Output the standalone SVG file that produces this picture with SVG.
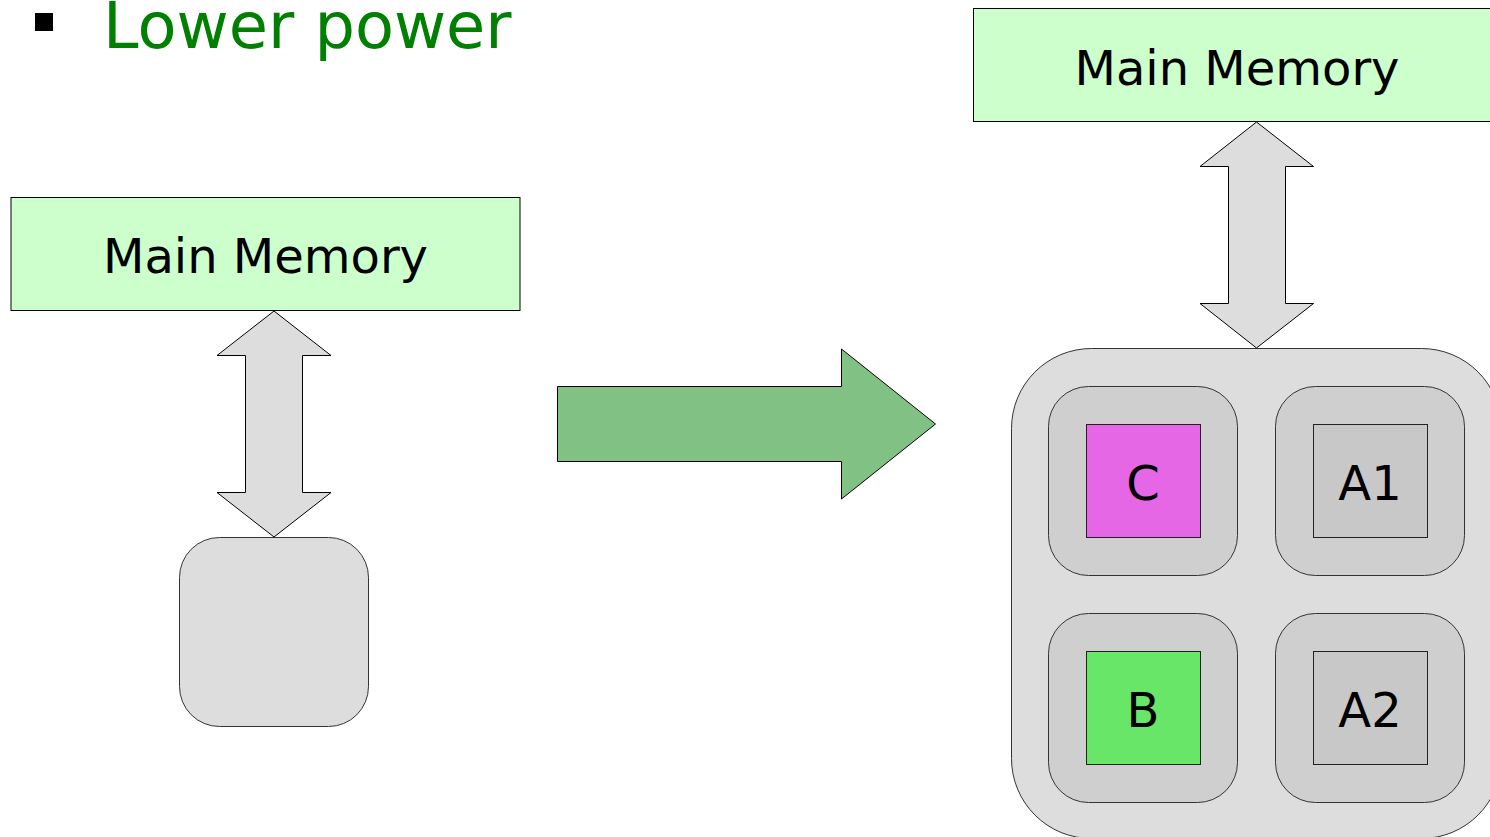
<svg xmlns="http://www.w3.org/2000/svg" width="1490" height="837" viewBox="0 0 1490 837">
<style>
  text { font-family: "DejaVu Sans", "Liberation Sans", sans-serif; }
  .mem { fill: #ccffcc; stroke: #000; stroke-width: 1; }
  .lbl { font-size: 48px; fill: #000; text-anchor: middle; }
  .dbl { fill: #dddddd; stroke: #000; stroke-width: 1; stroke-linejoin: miter; }
  .cpu { fill: #dddddd; stroke: #333; stroke-width: 1; }
  .core { fill: #cfcfcf; stroke: #333; stroke-width: 1; }
  .sq { stroke: #222; stroke-width: 1; }
</style>
<rect width="1490" height="837" fill="#ffffff"/>

<g id="title">
  <rect x="35" y="13" width="18" height="18" fill="#000"/>
  <text x="103" y="48" font-size="63.8" fill="#008000">Lower power</text>
</g>

<g id="left-memory">
  <rect class="mem" x="11" y="197.5" width="509" height="113"/>
  <text class="lbl" x="265.5" y="273">Main Memory</text>
</g>

<g id="left-cpu">
  <rect class="cpu" x="179.5" y="537.5" width="189" height="189" rx="40" ry="40"/>
</g>

<g id="right-memory">
  <rect class="mem" x="973.5" y="8.5" width="520" height="113"/>
  <text class="lbl" x="1237" y="85">Main Memory</text>
</g>

<g id="right-cpu">
  <rect class="cpu" x="1011.5" y="348.5" width="490" height="490" rx="80" ry="80"/>
</g>

<g id="core-c">
  <rect class="core" x="1048.5" y="386.5" width="189" height="189" rx="40" ry="40"/>
  <rect class="sq" x="1086.5" y="424.5" width="114" height="113" fill="#e667e6"/>
  <text class="lbl" x="1143" y="500">C</text>
</g>
<g id="core-a1">
  <rect class="core" x="1275.5" y="386.5" width="189" height="189" rx="40" ry="40"/>
  <rect class="sq" x="1313.5" y="424.5" width="114" height="113" fill="#c8c8c8"/>
  <text class="lbl" x="1370" y="500">A1</text>
</g>
<g id="core-b">
  <rect class="core" x="1048.5" y="613.5" width="189" height="189" rx="40" ry="40"/>
  <rect class="sq" x="1086.5" y="651.5" width="114" height="113" fill="#67e667"/>
  <text class="lbl" x="1143" y="727">B</text>
</g>
<g id="core-a2">
  <rect class="core" x="1275.5" y="613.5" width="189" height="189" rx="40" ry="40"/>
  <rect class="sq" x="1313.5" y="651.5" width="114" height="113" fill="#c8c8c8"/>
  <text class="lbl" x="1370" y="727">A2</text>
</g>

<g id="connectors">
  <polygon class="dbl" points="274,311 331,355.5 302.5,355.5 302.5,492.5 331,492.5 274,537 217,492.5 245.5,492.5 245.5,355.5 217,355.5"/>
  <polygon class="dbl" points="1256.5,122 1313.5,166.5 1285.5,166.5 1285.5,303.5 1313.5,303.5 1256.5,348 1200,303.5 1228.5,303.5 1228.5,166.5 1200,166.5"/>
  <polygon points="557.5,386.5 841.5,386.5 841.5,349 935.5,424 841.5,499 841.5,461.5 557.5,461.5" fill="#81c183" stroke="#000" stroke-width="1"/>
</g>
</svg>
